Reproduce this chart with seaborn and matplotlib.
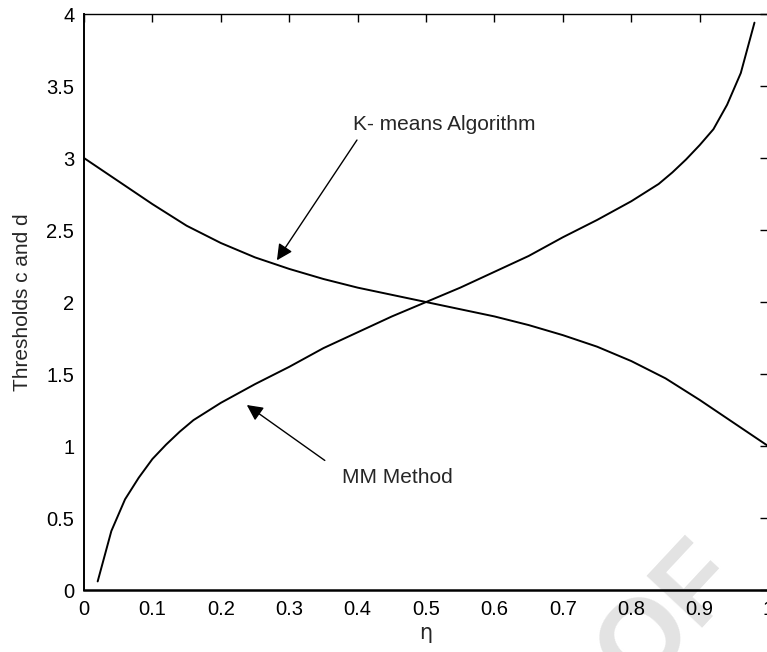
import numpy as np
import pandas as pd
import seaborn as sns
import matplotlib
matplotlib.use("Agg")
import matplotlib.pyplot as plt

# values
eta_mm = [0.02, 0.04, 0.06, 0.08, 0.10, 0.12, 0.14, 0.16, 0.18, 0.20,
          0.25, 0.30, 0.35, 0.40, 0.45, 0.50, 0.55, 0.60, 0.65, 0.70,
          0.75, 0.80, 0.82, 0.84, 0.86, 0.88, 0.90, 0.92, 0.94, 0.96, 0.98]
thr_mm = [0.06, 0.41, 0.63, 0.78, 0.91, 1.01, 1.10, 1.18, 1.24, 1.30,
          1.43, 1.55, 1.68, 1.79, 1.90, 2.00, 2.10, 2.21, 2.32, 2.45,
          2.57, 2.70, 2.76, 2.82, 2.90, 2.99, 3.09, 3.20, 3.37, 3.59, 3.94]

eta_km = [0.00, 0.05, 0.10, 0.15, 0.20, 0.25, 0.30, 0.35, 0.40, 0.45, 0.50,
          0.55, 0.60, 0.65, 0.70, 0.75, 0.80, 0.85, 0.90, 0.95, 1.00]
thr_km = [3.00, 2.84, 2.68, 2.53, 2.41, 2.31, 2.23, 2.16, 2.10, 2.05, 2.00,
          1.95, 1.90, 1.84, 1.77, 1.69, 1.59, 1.47, 1.32, 1.16, 1.00]

x_ticks = [0, 0.1, 0.2, 0.3, 0.4, 0.5, 0.6, 0.7, 0.8, 0.9, 1]
x_labels = ["0", "0.1", "0.2", "0.3", "0.4", "0.5", "0.6", "0.7", "0.8", "0.9", "1"]
y_ticks = [0, 0.5, 1, 1.5, 2, 2.5, 3, 3.5, 4]
y_labels = ["0", "0.5", "1", "1.5", "2", "2.5", "3", "3.5", "4"]

sns.set_style("white")
plt.rcParams['font.family'] = ['Liberation Sans', 'DejaVu Sans']

df_mm = pd.DataFrame({"eta": eta_mm, "thr": thr_mm})
df_km = pd.DataFrame({"eta": eta_km, "thr": thr_km})

fig = plt.figure(figsize=(7.67, 6.52), dpi=100)
ax = fig.add_axes([0.1095, 0.095, 0.892, 0.8835])
ax.set_facecolor("none")

# faint proof watermark behind the plot
fig.text(0.872, 0.055, "OF", fontsize=80, fontweight="bold", color="#e3e3e3",
         rotation=47, ha="center", va="center", zorder=-5)

sns.lineplot(data=df_mm, x="eta", y="thr", color="black", lw=1.4, ax=ax)
sns.lineplot(data=df_km, x="eta", y="thr", color="black", lw=1.4, ax=ax)

ax.set_xlim(0, 1)
ax.set_ylim(0, 4)
ax.set_xticks(x_ticks)
ax.set_xticklabels(x_labels)
ax.set_yticks(y_ticks)
ax.set_yticklabels(y_labels)
ax.tick_params(direction="in", length=6, width=1, top=True, right=True,
               labelsize=14.5, colors="black", pad=7)
for s in ax.spines.values():
    s.set_visible(True)
    s.set_color("black")
    s.set_linewidth(1.0)
ax.spines["bottom"].set_linewidth(1.8)
ax.spines["left"].set_linewidth(1.4)

ax.set_xlabel("η", fontsize=15, labelpad=3, family=["DejaVu Sans"])
ax.set_ylabel("Thresholds c and d", fontsize=15, labelpad=10)

arrow = dict(arrowstyle="-|>", color="black", lw=1.0, mutation_scale=24,
             shrinkA=0, shrinkB=0)
ax.text(0.527, 3.23, "K- means Algorithm", fontsize=15, ha="center", va="center")
ax.annotate("", xy=(0.282, 2.29), xytext=(0.399, 3.125), arrowprops=arrow)
ax.text(0.458, 0.785, "MM Method", fontsize=15, ha="center", va="center")
ax.annotate("", xy=(0.238, 1.285), xytext=(0.352, 0.90), arrowprops=arrow)

plt.savefig("out.png", dpi=100)
